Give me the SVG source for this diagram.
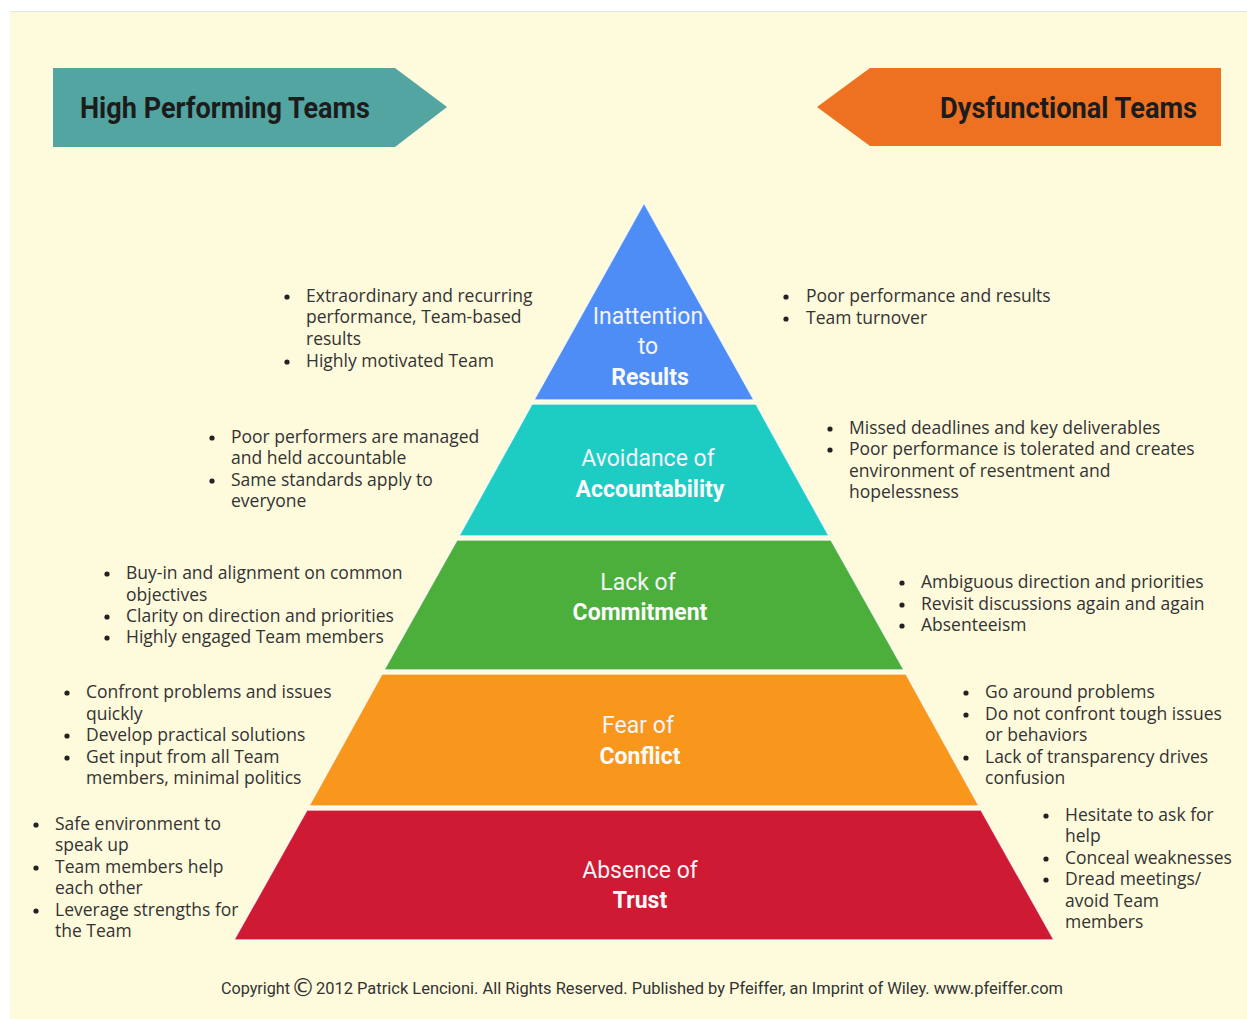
<svg xmlns="http://www.w3.org/2000/svg" width="1247" height="1019" viewBox="0 0 1247 1019">
<style>
.bg{fill:#FEFADC}
.ban{font-family:Roboto,"Liberation Sans",sans-serif;font-weight:700;font-size:30px;fill:#1c1c1c}
.lbl{font-family:Roboto,"Liberation Sans",sans-serif;font-size:23px;fill:#F2F4FA;text-anchor:middle}
.lbl .b{font-weight:700;fill:#FAFAFA}
.bl{font-family:"Open Sans","Noto Sans",sans-serif;font-size:17.5px;fill:#333}
.bul{fill:#222}
.layer{stroke:#ffffff;stroke-width:1.5;stroke-opacity:0.8}
.copy{font-family:Roboto,"Liberation Sans",sans-serif;font-size:17px;fill:#333}
.cmark{font-family:"DejaVu Sans",sans-serif;font-size:24px;fill:#333;text-anchor:middle}
</style>
<defs>
<circle id="dot" r="2.6" class="bul"/>
</defs>
<rect x="0" y="0" width="1247" height="1019" fill="#ffffff"/>
<rect x="10" y="12" width="1237" height="1007" class="bg"/>
<line x1="10" y1="11.5" x2="1247" y2="11.5" stroke="#dfe8e4" stroke-width="1"/>

<g id="banner-high">
<polygon points="53,68 395,68 447,107 395,147 53,147" fill="#52A5A0"/>
<text class="ban" x="80" y="118" textLength="290" lengthAdjust="spacingAndGlyphs">High Performing Teams</text>
</g>
<g id="banner-dys">
<polygon points="870,68 1221,68 1221,146 870,146 817,107" fill="#EE7122"/>
<text class="ban" x="940" y="118" textLength="257" lengthAdjust="spacingAndGlyphs">Dysfunctional Teams</text>
</g>

<g id="layer-results">
<polygon class="layer" points="644,203 754,400 534,400" fill="#4E8DF6"/>
<text class="lbl"><tspan x="648" y="324">Inattention</tspan><tspan x="648" y="354">to</tspan><tspan class="b" x="650" y="385">Results</tspan></text>
</g>
<g id="layer-accountability">
<polygon class="layer" points="532,404 756,404 829,536 459,536" fill="#1DCDC3"/>
<text class="lbl"><tspan x="648" y="466">Avoidance of</tspan><tspan class="b" x="650" y="497">Accountability</tspan></text>
</g>
<g id="layer-commitment">
<polygon class="layer" points="457,540 831,540 904,670 384,670" fill="#4CAF3B"/>
<text class="lbl"><tspan x="638" y="590">Lack of</tspan><tspan class="b" x="640" y="620">Commitment</tspan></text>
</g>
<g id="layer-conflict">
<polygon class="layer" points="382,674 906,674 979,806 309,806" fill="#F8971C"/>
<text class="lbl"><tspan x="638" y="733">Fear of</tspan><tspan class="b" x="640" y="764">Conflict</tspan></text>
</g>
<g id="layer-trust">
<polygon class="layer" points="307,810 981,810 1054,940 234,940" fill="#CE1A32"/>
<text class="lbl"><tspan x="640" y="878">Absence of</tspan><tspan class="b" x="640" y="908">Trust</tspan></text>
</g>

<g id="left-1">
<use href="#dot" x="287" y="297"/><use href="#dot" x="287" y="362"/>
<text class="bl"><tspan x="306" y="302">Extraordinary and recurring</tspan><tspan x="306" y="323">performance, Team-based</tspan><tspan x="306" y="345">results</tspan><tspan x="306" y="367">Highly motivated Team</tspan></text>
</g>
<g id="right-1">
<use href="#dot" x="786" y="297"/><use href="#dot" x="786" y="319"/>
<text class="bl"><tspan x="806" y="302">Poor performance and results</tspan><tspan x="806" y="324">Team turnover</tspan></text>
</g>
<g id="left-2">
<use href="#dot" x="212" y="438"/><use href="#dot" x="212" y="481"/>
<text class="bl"><tspan x="231" y="443">Poor performers are managed</tspan><tspan x="231" y="464">and held accountable</tspan><tspan x="231" y="486">Same standards apply to</tspan><tspan x="231" y="507">everyone</tspan></text>
</g>
<g id="right-2">
<use href="#dot" x="830" y="429"/><use href="#dot" x="830" y="450"/>
<text class="bl"><tspan x="849" y="434">Missed deadlines and key deliverables</tspan><tspan x="849" y="455">Poor performance is tolerated and creates</tspan><tspan x="849" y="477">environment of resentment and</tspan><tspan x="849" y="498">hopelessness</tspan></text>
</g>
<g id="left-3">
<use href="#dot" x="107" y="574"/><use href="#dot" x="107" y="617"/><use href="#dot" x="107" y="638"/>
<text class="bl"><tspan x="126" y="579">Buy-in and alignment on common</tspan><tspan x="126" y="601">objectives</tspan><tspan x="126" y="622">Clarity on direction and priorities</tspan><tspan x="126" y="643">Highly engaged Team members</tspan></text>
</g>
<g id="right-3">
<use href="#dot" x="902" y="583"/><use href="#dot" x="902" y="605"/><use href="#dot" x="902" y="626"/>
<text class="bl"><tspan x="921" y="588">Ambiguous direction and priorities</tspan><tspan x="921" y="610">Revisit discussions again and again</tspan><tspan x="921" y="631">Absenteeism</tspan></text>
</g>
<g id="left-4">
<use href="#dot" x="67" y="693"/><use href="#dot" x="67" y="736"/><use href="#dot" x="67" y="758"/>
<text class="bl"><tspan x="86" y="698">Confront problems and issues</tspan><tspan x="86" y="720">quickly</tspan><tspan x="86" y="741">Develop practical solutions</tspan><tspan x="86" y="763">Get input from all Team</tspan><tspan x="86" y="784">members, minimal politics</tspan></text>
</g>
<g id="right-4">
<use href="#dot" x="966" y="693"/><use href="#dot" x="966" y="715"/><use href="#dot" x="966" y="758"/>
<text class="bl"><tspan x="985" y="698">Go around problems</tspan><tspan x="985" y="720">Do not confront tough issues</tspan><tspan x="985" y="741">or behaviors</tspan><tspan x="985" y="763">Lack of transparency drives</tspan><tspan x="985" y="784">confusion</tspan></text>
</g>
<g id="left-5">
<use href="#dot" x="36" y="825"/><use href="#dot" x="36" y="868"/><use href="#dot" x="36" y="911"/>
<text class="bl"><tspan x="55" y="830">Safe environment to</tspan><tspan x="55" y="851">speak up</tspan><tspan x="55" y="873">Team members help</tspan><tspan x="55" y="894">each other</tspan><tspan x="55" y="916">Leverage strengths for</tspan><tspan x="55" y="937">the Team</tspan></text>
</g>
<g id="right-5">
<use href="#dot" x="1046" y="816"/><use href="#dot" x="1046" y="859"/><use href="#dot" x="1046" y="880"/>
<text class="bl"><tspan x="1065" y="821">Hesitate to ask for</tspan><tspan x="1065" y="842">help</tspan><tspan x="1065" y="864">Conceal weaknesses</tspan><tspan x="1065" y="885">Dread meetings/</tspan><tspan x="1065" y="907">avoid Team</tspan><tspan x="1065" y="928">members</tspan></text>
</g>

<g id="copyright">
<text class="copy" x="221" y="994" textLength="69" lengthAdjust="spacingAndGlyphs">Copyright</text>
<text class="cmark" x="303" y="996">©</text>
<text class="copy" x="316" y="994" textLength="747" lengthAdjust="spacingAndGlyphs">2012 Patrick Lencioni. All Rights Reserved. Published by Pfeiffer, an Imprint of Wiley. www.pfeiffer.com</text>
</g>
</svg>
